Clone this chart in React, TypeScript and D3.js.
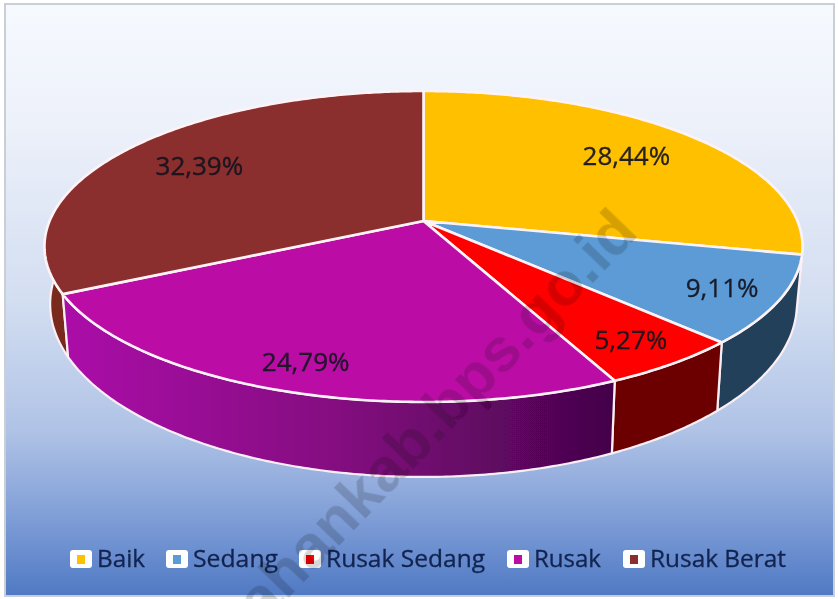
import React from "react";
import * as d3 from "d3";

const categories = ["Baik", "Sedang", "Rusak Sedang", "Rusak", "Rusak Berat"];
const values = [28.44, 9.11, 5.27, 24.79, 32.39];
const labels = ["28,44%", "9,11%", "5,27%", "24,79%", "32,39%"];
const topColors = ["#ffc000", "#5b9bd5", "#ff0000", "#bb10a6", "#8b2e2e"];
const wallColors = ["#a07800", "#22405a", "#6c0000", "url(#purpleWall)", "#7a2a1c"];
const labelRadius = [0.75, 0.85, 0.85, 0.85, 0.75];
const legendSwatchX = [70, 166, 299, 507, 623];
const legendTextX = [97, 193, 326, 534, 650];
const legendTextEnd = [145, 278, 485, 601, 786];

const W = 838, H = 599;
const cx = 423.5, cy = 221;
const a = 373.9, b = 151.3, k = 0.164;

// perspective projection of the pie's top disc
const project = (theta: number, r = 1): [number, number] => {
  const X = r * Math.sin(theta), Y = -r * Math.cos(theta);
  const w = 1 - k * Y;
  return [cx + (a * X) / w, cy + (b * Y) / w];
};
// the lower rim of the wall under a point of the top rim
const lower = ([x, y]: [number, number]): [number, number] => [
  cx + (x - cx) * 0.985,
  y + 63 + 0.112 * (y - 295),
];

const arcs = d3.pie<number>().sort(null).startAngle(0).endAngle(2 * Math.PI)(values);
const line = d3.line<[number, number]>().curve(d3.curveLinear);
const rim = (s: number, e: number) => {
  const n = Math.max(2, Math.ceil((e - s) / 0.01));
  return d3.range(n + 1).map((i) => project(s + ((e - s) * i) / n));
};

const wallOrder = [4, 0, 1, 2, 3];

export default function App() {
  return (
    <svg width={W} height={H} style={{ position: "absolute", left: 0, top: 0 }} fontFamily="'Open Sans', sans-serif">
      <defs>
        <linearGradient id="bg" x1="0" y1="0" x2="0" y2="1">
          <stop offset="0" stopColor="#f6f9fe" />
          <stop offset="0.2" stopColor="#edf1fa" />
          <stop offset="0.5" stopColor="#d3def1" />
          <stop offset="0.72" stopColor="#b0c3e6" />
          <stop offset="0.86" stopColor="#82a0d8" />
          <stop offset="1" stopColor="#4f79c4" />
        </linearGradient>
        <linearGradient id="purpleWall" gradientUnits="userSpaceOnUse" x1="65" y1="0" x2="612" y2="0">
          <stop offset="0" stopColor="#ab0fa8" />
          <stop offset="0.5" stopColor="#840a80" />
          <stop offset="1" stopColor="#44054a" />
        </linearGradient>
        <filter id="soft" x="-5%" y="-5%" width="110%" height="110%">
          <feGaussianBlur stdDeviation="0.45" />
        </filter>
      </defs>
      <g filter="url(#soft)">
        <rect x={0} y={0} width={W} height={H} fill="#ffffff" />
        <rect x={5} y={4} width={829} height={592} fill="url(#bg)" stroke="#c9cfd4" strokeWidth={2} />

        {wallOrder.map((i) => {
          const d = arcs[i];
          const e = i === 4 ? Math.min(d.endAngle, (270 * Math.PI) / 180 + 0.3) : d.endAngle;
          const top = rim(d.startAngle, e);
          const poly = [...top, ...top.slice().reverse().map(lower)];
          return (
            <path key={i} d={line(poly) + "Z"} fill={wallColors[i]} stroke="#fbeef4" strokeWidth={2.2} strokeLinejoin="round" />
          );
        })}

        {arcs.map((d, i) => {
          const poly = [[cx, cy] as [number, number], ...rim(d.startAngle, d.endAngle)];
          return (
            <path key={i} d={line(poly) + "Z"} fill={topColors[i]} stroke="#fdf3f6" strokeWidth={2.6} strokeLinejoin="round" />
          );
        })}

        {arcs.map((d, i) => {
          const [x, y] = project((d.startAngle + d.endAngle) / 2, labelRadius[i]);
          return (
            <text key={i} x={x} y={y} textAnchor="middle" dominantBaseline="central" fontSize={26} fill="#14141f" stroke="#14141f" strokeWidth={0.3} fillOpacity={0.92}>
              {labels[i]}
            </text>
          );
        })}

        {categories.map((c, i) => (
          <g key={c}>
            <rect x={legendSwatchX[i]} y={550} width={22} height={18} rx={3} fill="#ffffff" />
            <rect x={legendSwatchX[i] + 7} y={555} width={8} height={9} fill={topColors[i]} />
            <text
              x={legendTextX[i]}
              y={567}
              fontSize={24}
              fill="#12244f"
              stroke="#12244f"
              strokeWidth={0.3}
              textLength={legendTextEnd[i] - legendTextX[i]}
              lengthAdjust="spacingAndGlyphs"
            >
              {c}
            </text>
          </g>
        ))}

        <text
          transform="translate(640,234) rotate(-46)"
          textAnchor="end"
          fontFamily="'Liberation Sans', sans-serif"
          fontWeight={700}
          fontSize={62}
          fill="#000000"
          fillOpacity={0.16}
        >
          ahankab.bps.go.id
        </text>
      </g>
    </svg>
  );
}
